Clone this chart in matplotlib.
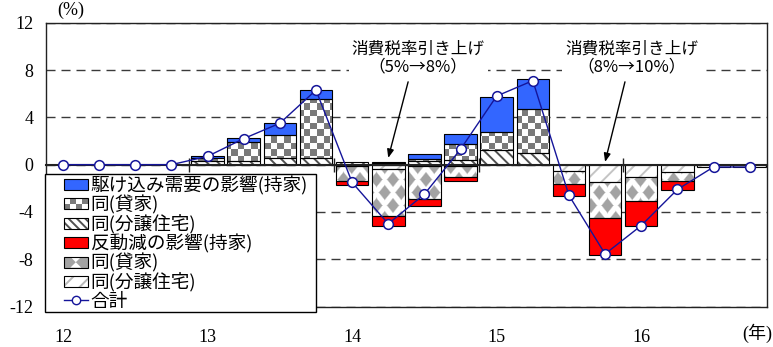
import numpy as np
import matplotlib
matplotlib.use("Agg")
import matplotlib.pyplot as plt
from matplotlib.patches import Rectangle, PathPatch, Patch, Polygon
from matplotlib.path import Path
from matplotlib.lines import Line2D
from matplotlib.legend_handler import HandlerBase
from matplotlib.font_manager import FontProperties

# ---- data: quarterly contributions, 2012Q1 .. 2016Q4 (percentage points) ----
year_labels = ["12", "13", "14", "15", "16"]

rush_owner = [0, 0, 0, 0, 0.2, 0.35, 1.0, 0.75, 0.0, 0.0, 0.4, 0.85,
              3.0, 2.55, 0, 0, 0, 0, 0, 0]
rush_rental = [0, 0, 0, 0, 0.25, 1.6, 1.9, 5.0, 0.0, 0.1, 0.2, 1.35,
               1.5, 3.7, 0, 0, 0, 0, 0, 0]
rush_condo = [0, 0, 0, 0, 0.3, 0.3, 0.6, 0.55, 0.2, 0.1, 0.3, 0.4,
              1.25, 1.0, 0, 0, 0, 0, 0, 0]
drop_owner = [0, 0, 0, 0, 0, 0, 0, 0, -0.3, -0.9, -0.6, -0.3,
              0, 0, -1.0, -3.1, -2.05, -0.75, 0, 0]
drop_rental = [0, 0, 0, 0, 0, 0, 0, 0, -1.3, -3.95, -2.8, -0.95,
               0, 0, -1.1, -3.05, -2.05, -0.8, 0, 0]
drop_condo = [0, 0, 0, 0, 0, 0, 0, 0, -0.1, -0.35, -0.1, -0.1,
              0, 0, -0.55, -1.45, -1.05, -0.6, -0.2, -0.2]
total = [0, 0, 0, 0, 0.7, 2.2, 3.5, 6.3, -1.5, -5.0, -2.5, 1.3,
         5.8, 7.1, -2.6, -7.55, -5.15, -2.1, -0.2, -0.2]

legend_labels = ["駆け込み需要の影響(持家)", "同(貸家)", "同(分譲住宅)",
                 "反動減の影響(持家)", "同(貸家)", "同(分譲住宅)", "合計"]
hike_notes = ["消費税率引き上げ\n（5%→8%）", "消費税率引き上げ\n（8%→10%）"]

# ---- styling ----
plt.rcParams["hatch.linewidth"] = 1.4
JP = "Noto Sans CJK JP"
SERIF = ["Liberation Serif", "Noto Sans CJK JP"]
BLUE = "#3366ff"
RED = "#ff0000"
NAVY = "#15159a"
CHECK_DARK = np.array([0.48, 0.48, 0.48])
DIAMOND_GRAY = np.array([0.64, 0.64, 0.64])

W_PX, H_PX, DPI = 773, 347, 100
fig = plt.figure(figsize=(W_PX / DPI, H_PX / DPI), dpi=DPI)
ax_left, ax_right, ax_top, ax_bottom = 46, 767, 22.7, 306.6
ax = fig.add_axes([ax_left / W_PX, 1 - ax_bottom / H_PX,
                   (ax_right - ax_left) / W_PX, (ax_bottom - ax_top) / H_PX])
ax.set_xlim(-0.47, 19.48)
ax.set_ylim(-12, 12)

axw = int(round(ax_right - ax_left))
axh = int(round(ax_bottom - ax_top))
yy, xx = np.mgrid[0:axh, 0:axw].astype(float)

# checkerboard fill (rental, rush demand)
cell = 6.6
chk = ((np.floor(xx / cell) + np.floor((axh - yy) / cell)) % 2)[..., None]
checker_img = np.where(chk == 1, CHECK_DARK, np.array([1.0, 1.0, 1.0]))

# diamond lattice fill (rental, pullback)
P, Q, a, b = 16.5, 26.0, 6.8, 8.5
def _dist(ox, oy):
    u = np.mod(xx + ox, P) - P / 2
    v = np.mod(yy + oy, Q) - Q / 2
    return np.abs(u) / a + np.abs(v) / b
d = np.minimum(_dist(0, 0), _dist(P / 2, Q / 2))
mask = np.clip((1.0 - d) * 4.0, 0, 1)[..., None]
diamond_img = (1 - mask) * np.ones(3) + mask * DIAMOND_GRAY

x = np.arange(len(total))
width = 0.9


def clip_image(ax, bars, img):
    paths = [r.get_patch_transform().transform_path(r.get_path()) for r in bars]
    if not paths:
        return
    compound = Path.make_compound_path(*paths)
    im = ax.imshow(img, extent=(0, 1, 0, 1), transform=ax.transAxes,
                   aspect="auto", interpolation="nearest", zorder=2.1)
    im.set_clip_path(PathPatch(compound, transform=ax.transData))


def segment(values, bottoms, face="white", hatch=None, hcolor=None, img=None):
    vals = np.asarray(values, float)
    idx = np.flatnonzero(vals)
    if hatch:
        bars = ax.bar(x[idx], vals[idx], width, bottom=bottoms[idx],
                      facecolor=face, edgecolor=hcolor, hatch=hatch,
                      linewidth=0, zorder=2)
    else:
        bars = ax.bar(x[idx], vals[idx], width, bottom=bottoms[idx],
                      facecolor=face, linewidth=0, zorder=2)
    if img is not None:
        clip_image(ax, bars, img)
    ax.bar(x[idx], vals[idx], width, bottom=bottoms[idx], fill=False,
           edgecolor="black", linewidth=0.8, zorder=2.5)


zero = np.zeros(len(total))
rc, rr, ro = map(np.asarray, (rush_condo, rush_rental, rush_owner))
dc, dr, do = map(np.asarray, (drop_condo, drop_rental, drop_owner))

segment(rc, zero, hatch="\\\\\\", hcolor="#505050")
segment(rr, rc, img=checker_img)
segment(ro, rc + rr, face=BLUE)
segment(dc, zero, hatch="//", hcolor="#c4c4c4")
segment(dr, dc, img=diamond_img)
segment(do, dc + dr, face=RED)

ax.plot(x, total, color=NAVY, linewidth=1.0, marker="o", markersize=7,
        markerfacecolor="white", markeredgecolor=NAVY, markeredgewidth=1.1,
        zorder=4)

# grid and frame
ax.set_yticks(np.arange(-12, 13, 4))
ax.set_yticklabels([str(v) for v in range(-12, 13, 4)], family=SERIF, fontsize=13)
ax.yaxis.grid(True, color="#3a3a3a", linestyle=(0, (6.5, 4.3)), linewidth=1.0)
ax.set_axisbelow(True)
ax.tick_params(axis="y", length=0, pad=9)
ax.set_xticks(np.arange(0, len(total), 4))
ax.set_xticklabels(year_labels, family=SERIF, fontsize=13)
ax.tick_params(axis="x", length=0, pad=16)
for s in ax.spines.values():
    s.set_color("#222222")
    s.set_linewidth(1.0)

# zero line with year-boundary ticks
sec = ax.secondary_xaxis(0.5)
sec.set_alignment("bottom")
sec.set_xticks(np.arange(3.5, len(total) - 1, 4))
sec.tick_params(axis="x", direction="inout", length=10, width=1.0,
                labelbottom=False, labeltop=False, color="#222222")
sec.spines["bottom"].set_linewidth(1.5)
sec.spines["bottom"].set_color("#222222")
sec.set_zorder(2.6)

# tax-hike annotations
for (qi, tip_y, tx, ty), note in zip([(9, 0.57, 9.83, 9.0), (15, 0.23, 15.73, 9.0)],
                                      hike_notes):
    ax.annotate("", xy=(qi, tip_y), xytext=(qi + 0.55, 7.0),
                arrowprops=dict(arrowstyle="-|>,head_length=0.5,head_width=0.2",
                                color="black", lw=1.0, shrinkA=0, shrinkB=0),
                zorder=5)
    ax.text(tx, ty, note, ha="center", va="center", family=JP, fontsize=12,
            linespacing=1.1, zorder=5,
            bbox=dict(facecolor="white", edgecolor="none", pad=2))

fig.text(57 / W_PX, 1 - 10 / H_PX, "(%)", ha="left", va="center",
         family=SERIF, fontsize=13)
fig.text(757 / W_PX, 1 - 333 / H_PX, "(年)", ha="center", va="center",
         family=SERIF, fontsize=13)


# ---- legend with patterned swatches ----
SWATCH_W = 17.3  # points


class SwatchHandler(HandlerBase):
    def __init__(self, kind):
        super().__init__()
        self.kind = kind

    def create_artists(self, legend, orig_handle, xdescent, ydescent,
                       width, height, fontsize, trans):
        x0 = -xdescent + width - SWATCH_W
        y0 = -ydescent
        width = SWATCH_W
        arts = []
        k = self.kind
        if k == "line":
            arts.append(Line2D([x0, x0 + width], [y0 + height / 2] * 2,
                               color=NAVY, lw=1.0, transform=trans))
            arts.append(Line2D([x0 + width / 2], [y0 + height / 2], marker="o",
                               ms=6, mfc="white", mec=NAVY, mew=1.0,
                               transform=trans))
            return arts
        if k in ("blue", "red"):
            arts.append(Rectangle((x0, y0), width, height,
                                  facecolor=BLUE if k == "blue" else RED,
                                  edgecolor="none", transform=trans))
        elif k in ("hatch_dark", "hatch_light"):
            arts.append(Rectangle((x0, y0), width, height, facecolor="white",
                                  edgecolor="#505050" if k == "hatch_dark" else "#b8b8b8",
                                  hatch="\\\\\\\\" if k == "hatch_dark" else "//",
                                  linewidth=0, transform=trans))
        elif k == "checker":
            arts.append(Rectangle((x0, y0), width, height, facecolor="white",
                                  edgecolor="none", transform=trans))
            nx, ny = 4, 2
            cw, ch = width / nx, height / ny
            for i in range(nx):
                for j in range(ny):
                    if (i + j) % 2 == 0:
                        arts.append(Rectangle((x0 + i * cw, y0 + j * ch), cw, ch,
                                              facecolor=CHECK_DARK, edgecolor="none",
                                              transform=trans))
        elif k == "diamond":
            arts.append(Rectangle((x0, y0), width, height, facecolor=DIAMOND_GRAY,
                                  edgecolor="none", transform=trans))
            cx = x0 + width * 0.5
            for yb, ym in ((y0, y0 + height * 0.5), (y0 + height, y0 + height * 0.5)):
                arts.append(Polygon([(cx - height * 0.5, yb), (cx, ym),
                                     (cx + height * 0.5, yb)], closed=True,
                                    facecolor="white", edgecolor="none", transform=trans))
        arts.append(Rectangle((x0, y0), width, height, fill=False,
                              edgecolor="black", linewidth=0.8, transform=trans))
        return arts


kinds = ["blue", "checker", "hatch_dark", "red", "diamond", "hatch_light", "line"]
handles = [Patch() for _ in kinds]
hmap = {h: SwatchHandler(k) for h, k in zip(handles, kinds)}
leg_l, leg_r, leg_t, leg_b = 45, 316, 174, 313
leg = ax.legend(handles, legend_labels, handler_map=hmap, loc="upper left",
                bbox_to_anchor=(leg_l / W_PX, 1 - leg_b / H_PX,
                                (leg_r - leg_l) / W_PX, (leg_b - leg_t) / H_PX),
                bbox_transform=fig.transFigure, borderaxespad=0, mode="expand",
                frameon=True, fancybox=False, framealpha=1, edgecolor="black",
                borderpad=0.1, handlelength=2.2, handleheight=0.53,
                handletextpad=0.16, labelspacing=0.01,
                prop=FontProperties(family=JP, size=13.4))
leg.get_frame().set_linewidth(1.0)
leg.set_zorder(10)

ax.set_xlim(-0.47, 19.48)
ax.set_ylim(-12, 12)
fig.savefig("out.png", dpi=DPI)
